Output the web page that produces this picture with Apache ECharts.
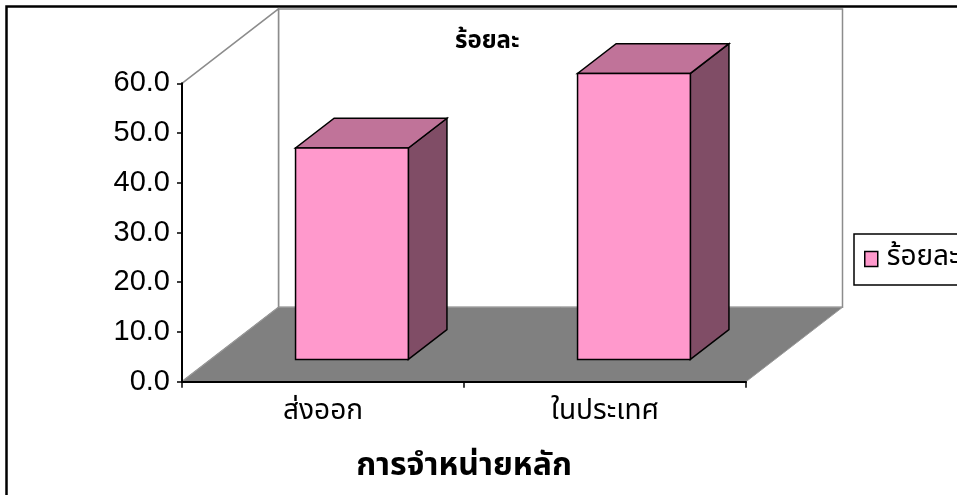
<!DOCTYPE html>
<html>
<head>
<meta charset="utf-8">
<script src="https://cdn.jsdelivr.net/npm/echarts@6/dist/echarts.min.js"></script>
<style>
  html, body { margin: 0; padding: 0; background: #fff; }
  #chart { width: 957px; height: 495px; }
</style>
</head>
<body>
<div id="chart"></div>
<script>
// Data
const categories = ['ส่งออก', 'ในประเทศ'];
const percentValues = [42.5, 57.5];
const seriesName = 'ร้อยละ';
const chartTitle = 'ร้อยละ';
const xAxisTitle = 'การจำหน่ายหลัก';
const yMin = 0, yMax = 60, yInterval = 10;

// 3D look: oblique depth vector and bar placement along depth
const DEPTH_X = 96.5, DEPTH_Y = -74.4;
const BAR_FRONT = 0.3, BAR_BACK = 0.7, BAR_WIDTH = 0.4;
const THAI_FONT = "Tahoma, 'Noto Sans Thai', 'Noto Sans Thai Looped', Loma, Garuda, Norasi, 'Noto Sans', sans-serif";
const NUM_FONT = "'Liberation Sans', Arial, sans-serif";

const chart = echarts.init(document.getElementById('chart'), null, { renderer: 'canvas' });

function pt(x, y, k) { return [x + DEPTH_X * k, y + DEPTH_Y * k]; }

function renderWalls(params, api) {
  const cs = params.coordSys;
  const x0 = cs.x, x1 = cs.x + cs.width, yT = cs.y, yB = cs.y + cs.height;
  const wallStroke = { fill: '#ffffff', stroke: '#8c8c8c', lineWidth: 1.5 };
  return {
    type: 'group',
    children: [
      { type: 'polygon', shape: { points: [pt(x0, yB, 1), pt(x0, yT, 1), pt(x1, yT, 1), pt(x1, yB, 1)] }, style: wallStroke },
      { type: 'polygon', shape: { points: [[x0, yT], pt(x0, yT, 1), pt(x0, yB, 1), [x0, yB]] }, style: wallStroke },
      { type: 'polygon', shape: { points: [[x0, yB], [x1, yB], pt(x1, yB, 1), pt(x0, yB, 1)] },
        style: { fill: '#808080', stroke: '#9a9a9a', lineWidth: 1 } }
    ]
  };
}

function renderBar(params, api) {
  const i = api.value(0), v = api.value(1);
  const base = api.coord([i, 0]);
  const top = api.coord([i, v]);
  const band = api.size([1, 0])[0];
  const w = band * BAR_WIDTH;
  const h = base[1] - top[1];
  const fl = pt(base[0] - w / 2, base[1], BAR_FRONT);   // front bottom-left
  const fx0 = fl[0], fx1 = fl[0] + w, fyB = fl[1], fyT = fl[1] - h;
  const d = BAR_BACK - BAR_FRONT;
  const bx = DEPTH_X * d, by = DEPTH_Y * d;
  const edge = { stroke: '#000000', lineWidth: 1.5, lineJoin: 'miter' };
  return {
    type: 'group',
    children: [
      { type: 'polygon', shape: { points: [[fx1, fyB], [fx1 + bx, fyB + by], [fx1 + bx, fyT + by], [fx1, fyT]] },
        style: Object.assign({ fill: '#804d66' }, edge) },
      { type: 'polygon', shape: { points: [[fx0, fyT], [fx1, fyT], [fx1 + bx, fyT + by], [fx0 + bx, fyT + by]] },
        style: Object.assign({ fill: '#c07399' }, edge) },
      { type: 'rect', shape: { x: fx0, y: fyT, width: w, height: h },
        style: Object.assign({ fill: '#ff99cc' }, edge) }
    ]
  };
}

const option = {
  backgroundColor: '#ffffff',
  animation: false,
  title: {
    text: chartTitle,
    left: 450, top: 26,
    textStyle: { fontFamily: THAI_FONT, fontSize: 24, fontWeight: 'bold', color: '#000' }
  },
  legend: {
    data: [seriesName],
    left: 854, top: 234,
    orient: 'vertical',
    padding: [11, 12, 12, 10],
    borderColor: '#000', borderWidth: 1.5,
    itemWidth: 13, itemHeight: 15, itemGap: 0,
    icon: 'rect',
    itemStyle: { color: '#ff99cc', borderColor: '#000', borderWidth: 1.5 },
    textStyle: { fontFamily: THAI_FONT, fontSize: 28, color: '#000', padding: [0, 0, 0, 4] }
  },
  grid: { left: 182, top: 83.3, width: 564, height: 298.4, containLabel: false },
  xAxis: {
    type: 'category',
    data: categories,
    z: 10,
    axisLine: { show: true, lineStyle: { color: '#000', width: 2 } },
    axisTick: { show: true, length: 6, lineStyle: { color: '#000', width: 1.5 } },
    axisLabel: { fontFamily: THAI_FONT, fontSize: 28, color: '#000', margin: 18 },
    name: xAxisTitle,
    nameLocation: 'middle',
    nameGap: 71,
    nameTextStyle: { fontFamily: THAI_FONT, fontSize: 32, fontWeight: 'bold', color: '#000' },
    splitLine: { show: false }
  },
  yAxis: {
    type: 'value',
    min: yMin, max: yMax, interval: yInterval,
    z: 10,
    axisLine: { show: true, lineStyle: { color: '#000', width: 2 } },
    axisTick: { show: true, length: 5, lineStyle: { color: '#000', width: 1.5 } },
    axisLabel: { fontFamily: NUM_FONT, fontSize: 29, color: '#000', margin: 12,
      formatter: v => v.toFixed(1) },
    splitLine: { show: false }
  },
  graphic: [{
    type: 'rect', z: -1, silent: true,
    shape: { x: 6.5, y: 6.5, width: 1200, height: 800 },
    style: { fill: 'none', stroke: '#000', lineWidth: 2.5 }
  }],
  series: [
    {
      type: 'custom', name: 'walls', silent: true, z: 1,
      renderItem: renderWalls,
      data: [[0, 0]]
    },
    {
      type: 'custom', name: seriesName, z: 3,
      itemStyle: { color: '#ff99cc', borderColor: '#000' },
      renderItem: renderBar,
      encode: { x: 0, y: 1 },
      data: percentValues.map((v, i) => [i, v])
    }
  ]
};

chart.setOption(option);
</script>
</body>
</html>
